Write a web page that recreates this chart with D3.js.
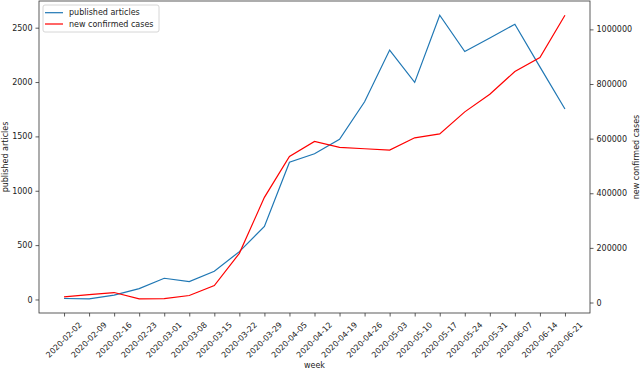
<!DOCTYPE html>
<html lang="en">
<head>
  <meta charset="UTF-8">
  <title>Published articles vs new confirmed cases</title>
  <script src="https://d3js.org/d3.v7.min.js"></script>
  <style>
    body { margin: 0; background: #fff; }
    text { font-family: "DejaVu Sans", sans-serif; font-size: 8px; fill: #222; }
  </style>
</head>
<body>
<div id="chart"></div>
<script>
// data
const weeks = ["2020-02-02", "2020-02-09", "2020-02-16", "2020-02-23", "2020-03-01", "2020-03-08",
  "2020-03-15", "2020-03-22", "2020-03-29", "2020-04-05", "2020-04-12", "2020-04-19", "2020-04-26",
  "2020-05-03", "2020-05-10", "2020-05-17", "2020-05-24", "2020-05-31", "2020-06-07", "2020-06-14", "2020-06-21"];
const articles = [9, 6, 40, 100, 195, 165, 260, 440, 672, 1262, 1340, 1474, 1819, 2294, 1997, 2615, 2281, 2405, 2532, 2140, 1752];
const cases = [20800, 29000, 36500, 13500, 14500, 25600, 62000, 180000, 385000, 535000, 590000, 568000, 563000,
  558000, 603000, 617500, 698000, 762500, 846000, 897000, 1052000];
const leftTicks = [0, 500, 1000, 1500, 2000, 2500];
const rightTicks = [0, 200000, 400000, 600000, 800000, 1000000];

const W = 640, H = 370;
const mLeft = 39, mRight = 590, mTop = 1, mBottom = 313;

// matplotlib style 5% margins
function padded(vals) {
  const [a, b] = d3.extent(vals);
  const m = (b - a) * 0.05;
  return [a - m, b + m];
}

const svg = d3.select("#chart").append("svg")
  .attr("width", W).attr("height", H);

const x = d3.scalePoint().domain(weeks).range([mLeft, mRight]).padding(1);
const yL = d3.scaleLinear().domain(padded(articles)).range([mBottom, mTop]);
const yR = d3.scaleLinear().domain(padded(cases)).range([mBottom, mTop]);

// axes
const axisColor = "#333";
const gx = svg.append("g").attr("transform", `translate(0,${mBottom})`)
  .call(d3.axisBottom(x).tickSize(3.5).tickSizeOuter(0).tickFormat(""));
const gl = svg.append("g").attr("transform", `translate(${mLeft},0)`)
  .call(d3.axisLeft(yL).tickValues(leftTicks).tickFormat(d3.format("d")).tickSize(3.5).tickSizeOuter(0).tickPadding(3));
const gr = svg.append("g").attr("transform", `translate(${mRight},0)`)
  .call(d3.axisRight(yR).tickValues(rightTicks).tickFormat(d3.format("d")).tickSize(3.5).tickSizeOuter(0).tickPadding(3));
[gx, gl, gr].forEach(g => {
  g.select(".domain").remove();
  g.selectAll("line").attr("stroke", axisColor).attr("stroke-width", 0.8);
  g.selectAll("text").attr("font-size", 8).attr("font-family", "DejaVu Sans").attr("fill", "#222");
});

// rotated date labels, centred on the tick like matplotlib
svg.append("g").selectAll("text").data(weeks).join("text")
  .attr("transform", d => `translate(${x(d)},340) rotate(-45)`)
  .attr("text-anchor", "middle")
  .attr("dominant-baseline", "central")
  .text(d => d);

// frame
svg.append("rect")
  .attr("x", mLeft).attr("y", mTop)
  .attr("width", mRight - mLeft).attr("height", mBottom - mTop)
  .attr("fill", "none").attr("stroke", axisColor).attr("stroke-width", 0.8);

// lines
const lineL = d3.line().x((d, i) => x(weeks[i])).y(d => yL(d));
const lineR = d3.line().x((d, i) => x(weeks[i])).y(d => yR(d));
svg.append("path").datum(articles).attr("d", lineL)
  .attr("fill", "none").attr("stroke", "#1f77b4").attr("stroke-width", 1.2);
svg.append("path").datum(cases).attr("d", lineR)
  .attr("fill", "none").attr("stroke", "red").attr("stroke-width", 1.2);

// axis titles
svg.append("text").attr("transform", `translate(5,${(mTop + mBottom) / 2}) rotate(-90)`)
  .attr("text-anchor", "middle").attr("dominant-baseline", "central").text("published articles");
svg.append("text").attr("transform", `translate(636,${(mTop + mBottom) / 2}) rotate(-90)`)
  .attr("text-anchor", "middle").attr("dominant-baseline", "central").text("new confirmed cases");
svg.append("text").attr("x", (mLeft + mRight) / 2).attr("y", 365)
  .attr("text-anchor", "middle").attr("dominant-baseline", "central").text("week");

// legend
const legend = svg.append("g").attr("transform", "translate(43,5)");
legend.append("rect").attr("width", 116).attr("height", 27).attr("rx", 2)
  .attr("fill", "#fff").attr("fill-opacity", 0.8).attr("stroke", "#ccc").attr("stroke-width", 0.8);
const items = [{name: "published articles", color: "#1f77b4"}, {name: "new confirmed cases", color: "red"}];
items.forEach((it, i) => {
  const yy = 7.7 + i * 11.3;
  legend.append("line").attr("x1", 2).attr("x2", 20).attr("y1", yy).attr("y2", yy)
    .attr("stroke", it.color).attr("stroke-width", 1.2);
  legend.append("text").attr("x", 26).attr("y", yy).attr("dominant-baseline", "central").text(it.name);
});
</script>
</body>
</html>
